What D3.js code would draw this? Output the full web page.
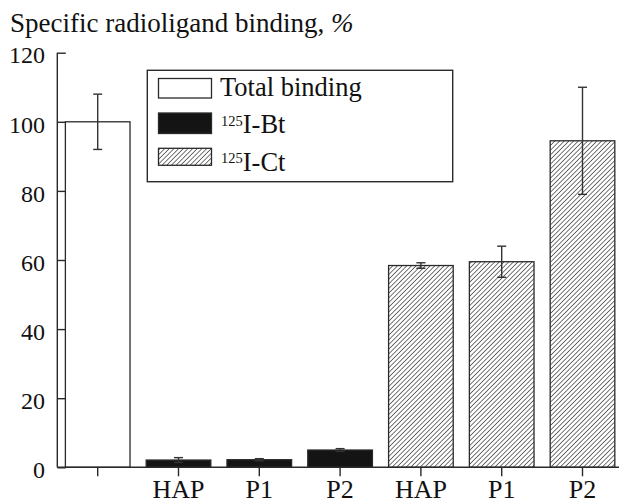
<!DOCTYPE html>
<html>
<head>
<meta charset="utf-8">
<script src="https://cdn.jsdelivr.net/npm/d3@7/dist/d3.min.js"></script>
<style>
  html, body { margin: 0; padding: 0; background: #fff; }
  svg text { font-family: 'Liberation Serif', 'Tinos', 'Times New Roman', 'DejaVu Serif', serif !important; }
</style>
</head>
<body>
<svg id="chart" width="619" height="504"></svg>
<script>
// ---- data ----
const categories = ["", "HAP", "P1", "P2", "HAP", "P1", "P2"];
const groups = ["total", "bt", "bt", "bt", "ct", "ct", "ct"];
const values = [100, 2.1, 2.2, 5.0, 58.4, 59.5, 94.5];
const errors = [8, 0.7, 0.3, 0.4, 0.8, 4.5, 15.5];
const yTicks = [0, 20, 40, 60, 80, 100, 120];
const legendKeys = ["total", "bt", "ct"];
const legendMain = ["Total binding", "I-Bt", "I-Ct"];
const legendSup = ["", "125", "125"];
const titleText = "Specific radioligand binding, ";

// ---- layout ----
const svg = d3.select("#chart");
const x0 = 57.3, x1 = 622.9, yBase = 467.3, yTop = 52.7;
const stroke = "#2a2a2a";

const idx = categories.map((d, i) => i);
const x = d3.scaleBand().domain(idx).range([x0, x1]).paddingInner(0.2).paddingOuter(0.1);
const y = d3.scaleLinear().domain([0, 120]).range([yBase, yTop]);

// hatch pattern
const defs = svg.append("defs");
const P = 3.3;
const pat = defs.append("pattern")
  .attr("id", "hatch").attr("patternUnits", "userSpaceOnUse")
  .attr("width", P).attr("height", P)
  .attr("patternTransform", "rotate(45)");
pat.append("rect").attr("width", P).attr("height", P).attr("fill", "#fff");
pat.append("line").attr("x1", 0).attr("y1", 0).attr("x2", 0).attr("y2", P)
  .attr("stroke", "#1a1a1a").attr("stroke-width", 1.2);

const fillFor = g => g === "total" ? "#fff" : g === "bt" ? "#141414" : "url(#hatch)";

// title
const title = svg.append("text").attr("x", 10).attr("y", 31.5)
  .attr("font-size", 27).attr("fill", "#111").text(titleText);
title.append("tspan").attr("font-style", "italic").text("%");

// bars
svg.append("g").selectAll("rect").data(idx).join("rect")
  .attr("x", i => x(i))
  .attr("y", i => y(values[i]))
  .attr("width", x.bandwidth())
  .attr("height", i => yBase - y(values[i]))
  .attr("fill", i => fillFor(groups[i]))
  .attr("stroke", stroke).attr("stroke-width", 1.3);

// error bars
const eg = svg.append("g").attr("stroke", "#333").attr("stroke-width", 1.4);
idx.forEach(i => {
  const cx = x(i) + x.bandwidth() / 2;
  const hi = y(values[i] + errors[i]), lo = y(values[i] - errors[i]);
  eg.append("line").attr("x1", cx).attr("x2", cx).attr("y1", hi).attr("y2", lo);
  eg.append("line").attr("x1", cx - 4.5).attr("x2", cx + 4.5).attr("y1", hi).attr("y2", hi);
  eg.append("line").attr("x1", cx - 4.5).attr("x2", cx + 4.5).attr("y1", lo).attr("y2", lo);
});

// y axis
const yAxis = d3.axisRight(y).tickValues(yTicks).tickSize(8.5).tickFormat("");
const ya = svg.append("g").attr("transform", `translate(${x0},0)`).call(yAxis);
ya.select(".domain").attr("d", `M0,${yTop}V${yBase}`).attr("stroke", stroke).attr("stroke-width", 1.4);
ya.selectAll(".tick line").attr("stroke", stroke).attr("stroke-width", 1.4);
svg.append("g").selectAll("text").data(yTicks).join("text")
  .attr("x", 45).attr("y", d => y(d) + 10.7)
  .attr("text-anchor", "end").attr("font-size", 24).attr("fill", "#111")
  .text(d => d);

// x axis
const xAxis = d3.axisBottom(x).tickSize(9).tickFormat(i => categories[i]);
const xa = svg.append("g").attr("transform", `translate(0,${yBase})`).call(xAxis);
xa.select(".domain").attr("d", `M${x0},0H619`).attr("stroke", stroke).attr("stroke-width", 1.4);
xa.selectAll(".tick line").attr("stroke", stroke).attr("stroke-width", 1.4);
xa.selectAll(".tick text").attr("y", 0).attr("dy", 0)
  .attr("transform", "translate(0,30.8)")
  .attr("font-size", 26).attr("fill", "#111");

// legend
const lg = svg.append("g");
lg.append("rect").attr("x", 147.3).attr("y", 70.3).attr("width", 305.4).attr("height", 111.4)
  .attr("fill", "#fff").attr("stroke", stroke).attr("stroke-width", 1.4);
const swTop = [78.5, 113, 148.3];
const swH = [19.5, 20.5, 17];
const txtY = [95.7, 133.3, 170.5];
legendKeys.forEach((k, j) => {
  lg.append("rect").attr("x", 158.5).attr("y", swTop[j]).attr("width", 53).attr("height", swH[j])
    .attr("fill", fillFor(k)).attr("stroke", stroke).attr("stroke-width", 1.3);
  const t = lg.append("text").attr("x", 220).attr("y", txtY[j])
    .attr("font-size", 26.5).attr("fill", "#111");
  if (legendSup[j]) {
    t.append("tspan").attr("x", 221).attr("font-size", 14.5).attr("dy", -7.5).text(legendSup[j]);
    t.append("tspan").attr("dy", 7.5).text(legendMain[j]);
  } else {
    t.text(legendMain[j]);
  }
});
</script>
</body>
</html>
